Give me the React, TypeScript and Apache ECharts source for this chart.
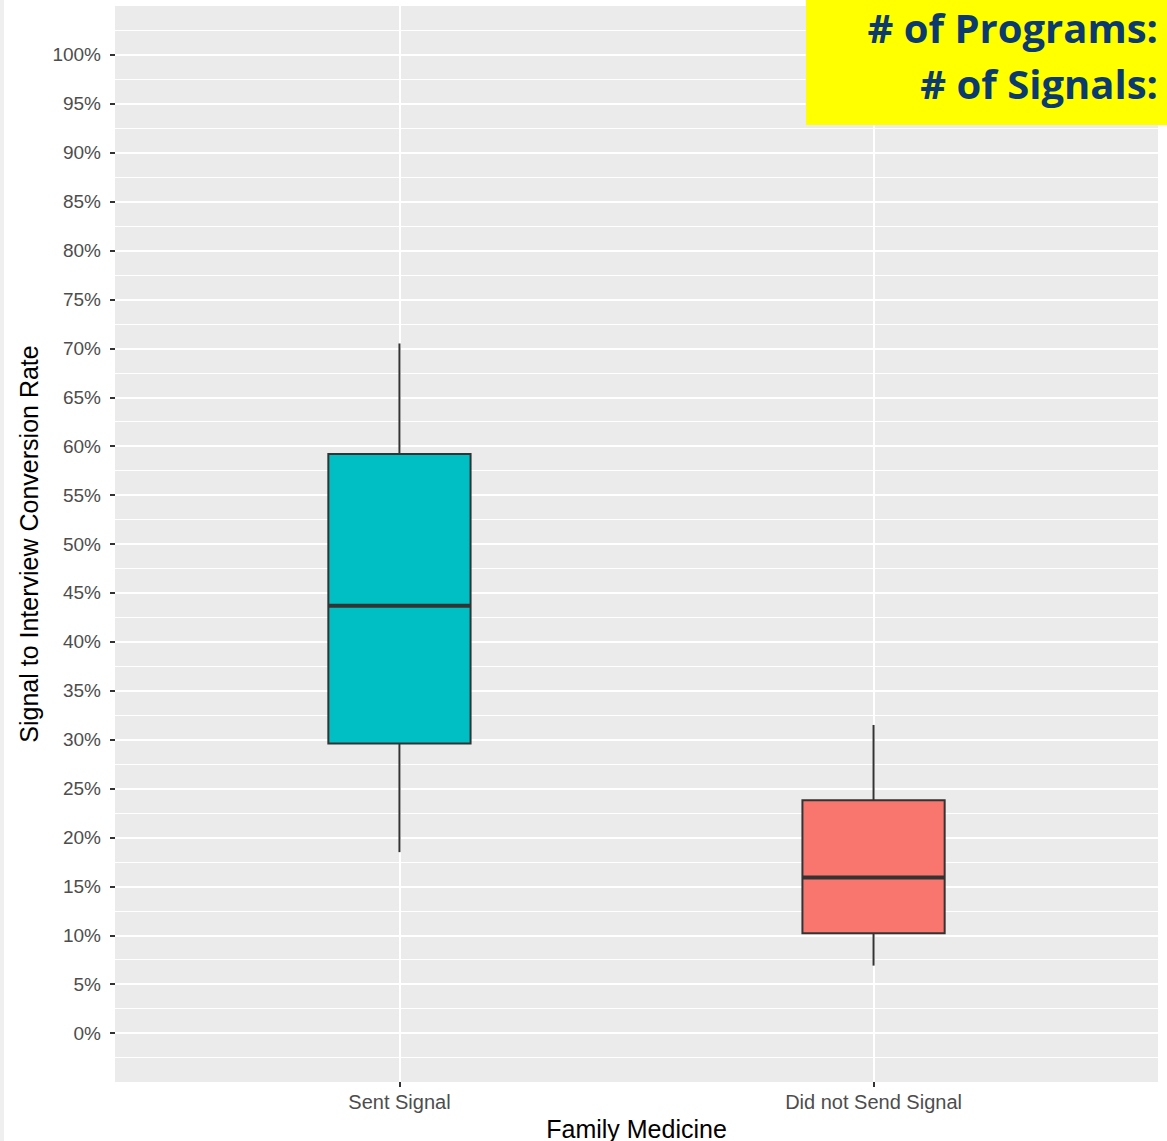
import React, { useEffect, useRef } from "react";
import * as echarts from "echarts";

const categories = ["Sent Signal", "Did not Send Signal"];
// [low whisker, Q1, median, Q3, high whisker] in percent
const sentSignal = [18.5, 29.6, 43.7, 59.2, 70.5];
const didNotSend = [6.9, 10.2, 15.9, 23.8, 31.5];
const boxColors = ["#00BFC4", "#F8766D"];
const yTicks = [0, 5, 10, 15, 20, 25, 30, 35, 40, 45, 50, 55, 60, 65, 70, 75, 80, 85, 90, 95, 100];
const annotationLines = ["# of Programs:", "# of Signals:"];

export default function App() {
  const ref = useRef<HTMLDivElement>(null);
  useEffect(() => {
    const chart = echarts.init(ref.current!, null, { renderer: "svg" });
    const boxes = [sentSignal, didNotSend].map((b, i) => [i + 1, ...b]);
    chart.setOption({
      animation: false,
      backgroundColor: "#ffffff",
      grid: {
        left: 115,
        top: 6,
        width: 1043,
        height: 1076,
        show: true,
        backgroundColor: "#EBEBEB",
        borderWidth: 0,
        containLabel: false,
        outerBoundsMode: "none",
      },
      xAxis: {
        type: "value",
        min: 0.4,
        max: 2.6,
        name: "Family Medicine",
        nameLocation: "middle",
        nameGap: 34,
        nameTextStyle: { fontFamily: "Liberation Sans", fontSize: 25, color: "#000000" },
        axisLine: { show: false, onZero: false },
        axisTick: { show: true, customValues: [1, 2], length: 5, lineStyle: { color: "#333333", width: 2 } },
        axisLabel: {
          customValues: [1, 2],
          margin: 10,
          fontFamily: "Liberation Sans",
          fontSize: 20,
          color: "#4D4D4D",
          formatter: (v: number) => categories[Math.round(v) - 1] ?? "",
        },
        splitLine: { show: true, lineStyle: { color: "#ffffff", width: 2 } },
      },
      yAxis: {
        type: "value",
        min: -5,
        max: 105,
        interval: 5,
        name: "Signal to Interview Conversion Rate",
        nameLocation: "middle",
        nameGap: 67,
        nameTextStyle: { fontFamily: "Liberation Sans", fontSize: 25, color: "#000000" },
        axisLine: { show: false, onZero: false },
        axisTick: { show: true, customValues: yTicks, length: 5, lineStyle: { color: "#333333", width: 2 } },
        axisLabel: {
          customValues: yTicks,
          margin: 14,
          fontFamily: "Liberation Sans",
          fontSize: 19,
          color: "#4D4D4D",
          formatter: (v: number) => (v < 0 || v > 100 ? "" : v + "%"),
        },
        splitLine: { show: true, lineStyle: { color: "#ffffff", width: 2 } },
        minorTick: { show: false, splitNumber: 2 },
        minorSplitLine: { show: true, lineStyle: { color: "#ffffff", width: 1.2 } },
      },
      series: [
        {
          type: "custom",
          data: boxes,
          encode: { x: 0, y: [1, 2, 3, 4, 5] },
          renderItem: (params: any, api: any) => {
            const x = api.value(0);
            const low = api.coord([x, api.value(1)]);
            const q1 = api.coord([x, api.value(2)]);
            const med = api.coord([x, api.value(3)]);
            const q3 = api.coord([x, api.value(4)]);
            const high = api.coord([x, api.value(5)]);
            const w = api.size([0.3, 0])[0];
            const cx = low[0];
            const stroke = { stroke: "#333333", lineWidth: 2 };
            return {
              type: "group",
              children: [
                { type: "line", shape: { x1: cx, y1: high[1], x2: cx, y2: q3[1] }, style: stroke },
                { type: "line", shape: { x1: cx, y1: q1[1], x2: cx, y2: low[1] }, style: stroke },
                {
                  type: "rect",
                  shape: { x: cx - w / 2, y: q3[1], width: w, height: q1[1] - q3[1] },
                  style: { fill: boxColors[params.dataIndex], stroke: "#333333", lineWidth: 2 },
                },
                { type: "line", shape: { x1: cx - w / 2, y1: med[1], x2: cx + w / 2, y2: med[1] }, style: { stroke: "#333333", lineWidth: 4 } },
              ],
            };
          },
        },
      ],
      graphic: [
        { type: "rect", left: 0, top: 0, z: 100, shape: { width: 4, height: 1141 }, style: { fill: "#EFEFEF" } },
        { type: "rect", left: 806, top: 0, z: 100, shape: { width: 361, height: 125 }, style: { fill: "#FFFF00" } },
        {
          type: "text",
          right: 9,
          top: 7,
          z: 101,
          style: { text: annotationLines[0], fontFamily: "Open Sans", fontWeight: "bold", fontSize: 40, fill: "#0B3A6E" },
        },
        {
          type: "text",
          right: 9,
          top: 63,
          z: 101,
          style: { text: annotationLines[1], fontFamily: "Open Sans", fontWeight: "bold", fontSize: 40, fill: "#0B3A6E" },
        },
      ],
    });
    return () => chart.dispose();
  }, []);
  return <div ref={ref} style={{ position: "fixed", left: 0, top: 0, width: 1167, height: 1141 }} />;
}
